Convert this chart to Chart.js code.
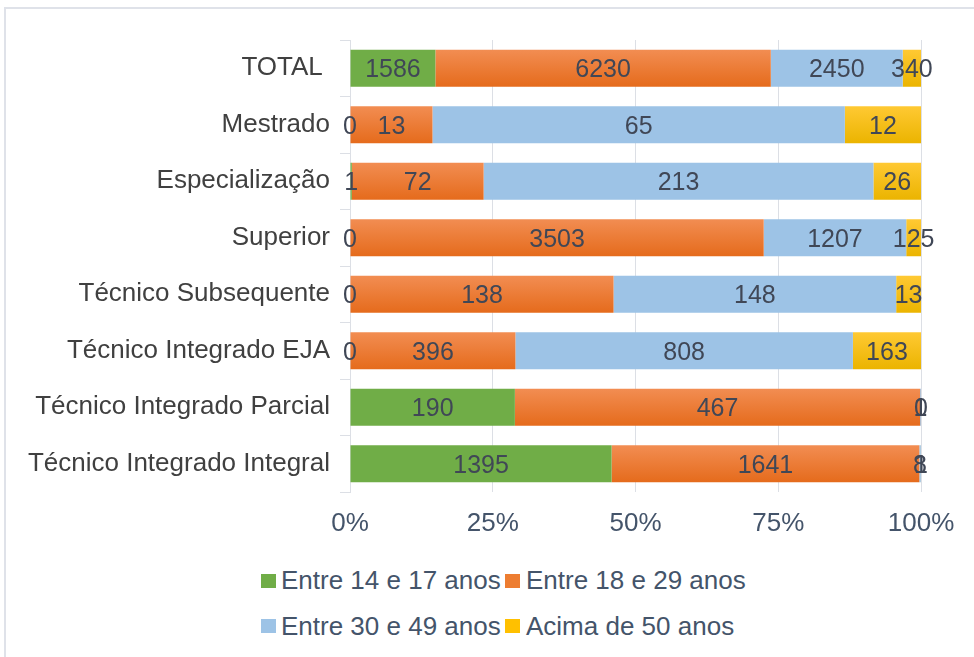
<!DOCTYPE html>
<html>
<head>
<meta charset="utf-8">
<script src="https://cdn.jsdelivr.net/npm/chart.js@4.4.1/dist/chart.umd.min.js"></script>
<style>
    body { margin: 0; background: #fff; overflow: hidden; width: 974px; height: 657px; position: relative; }
    #frame { position: absolute; left: 4px; top: 7px; width: 1000px; height: 700px; border: 2px solid #dfe2e9; box-sizing: border-box; }
    #wrap { position: absolute; left: 0; top: 0; width: 974px; height: 545px; }
    .box { position: absolute; width: 15px; height: 14px; }
    .txt { position: absolute; font-family: 'Liberation Sans', Arial, sans-serif; font-size: 26px; line-height: 30px; color: #44546a; white-space: nowrap; }
</style>
</head>
<body>
<div id="frame"></div>
<div id="wrap"><canvas id="myChart"></canvas></div>
<div id="legend"></div>

<script>
const categories = ['TOTAL ', 'Mestrado', 'Especialização', 'Superior', 'Técnico Subsequente', 'Técnico Integrado EJA', 'Técnico Integrado Parcial', 'Técnico Integrado Integral'];
const seriesNames = ['Entre 14 e 17 anos', 'Entre 18 e 29 anos', 'Entre 30 e 49 anos', 'Acima de 50 anos'];
const age14to17 = [1586, 0, 1, 0, 0, 0, 190, 1395];
const age18to29 = [6230, 13, 72, 3503, 138, 396, 467, 1641];
const age30to49 = [2450, 65, 213, 1207, 148, 808, 1, 8];
const age50plus = [340, 12, 26, 125, 13, 163, 0, 1];
const xTicks = [0, 25, 50, 75, 100];

const allSeries = [age14to17, age18to29, age30to49, age50plus];
const colors = ['#70ad47', '#ed7d31', '#9dc3e6', '#ffc000'];
const barPct = 0.655;

Chart.defaults.font.family = "'Liberation Sans', Arial, sans-serif";

// row totals -> percentages (100% stacked)
let totals = categories.map((c, i) => allSeries.reduce((s, arr) => s + arr[i], 0));

function barFill(top, bottom) {
    return function (context) {
        const chart = context.chart;
        const y = chart.scales.y;
        if (!y || context.type !== 'data') return bottom;
        const yc = y.getPixelForValue(context.dataIndex);
        const half = (y.height / categories.length) * barPct / 2;
        if (!isFinite(yc) || !isFinite(half) || half <= 0) return bottom;
        const g = chart.ctx.createLinearGradient(0, yc - half, 0, yc + half);
        g.addColorStop(0, top);
        g.addColorStop(1, bottom);
        return g;
    };
}

const fills = [
    '#70ad47',
    barFill('#f28d52', '#e56b1c'),
    '#9dc3e6',
    barFill('#ffc933', '#ebb400')
];

// value labels in the middle of each segment
const valueLabels = {
    id: 'valueLabels',
    afterDatasetsDraw(chart) {
        const ctx = chart.ctx;
        ctx.save();
        ctx.font = "25px 'Liberation Sans', Arial, sans-serif";
        ctx.fillStyle = '#404756';
        ctx.textAlign = 'center';
        ctx.textBaseline = 'middle';
        chart.data.datasets.forEach((ds, d) => {
            const meta = chart.getDatasetMeta(d);
            meta.data.forEach((bar, i) => {
                const cx = (bar.x + bar.base) / 2;
                ctx.fillText(String(allSeries[d][i]), cx, bar.y + 2);
            });
        });
        ctx.restore();
    }
};

const ctx = document.getElementById('myChart');

new Chart(ctx, {
    type: 'bar',
    data: {
        labels: categories,
        datasets: seriesNames.map((name, d) => ({
            label: name,
            data: allSeries[d].map((v, i) => v * 100 / totals[i]),
            backgroundColor: fills[d],
            borderWidth: 0,
            barPercentage: barPct,
            categoryPercentage: 1
        }))
    },
    options: {
        indexAxis: 'y',
        responsive: true,
        maintainAspectRatio: false,
        animation: false,
        layout: {
            padding: { top: 40, left: 0, right: 53, bottom: 8 }
        },
        scales: {
            x: {
                stacked: true,
                min: 0,
                max: 100,
                afterBuildTicks: (scale) => { scale.ticks = xTicks.map(v => ({ value: v })); },
                afterFit: (scale) => { scale.height = 45; },
                grid: { color: '#dcdfe5', lineWidth: 1, drawTicks: false },
                border: { display: false },
                ticks: {
                    padding: 16,
                    color: '#44546a',
                    font: { size: 26 },
                    callback: (v) => v + '%'
                }
            },
            y: {
                stacked: true,
                afterFit: (scale) => { scale.width = 350; },
                grid: { drawOnChartArea: false, color: '#dcdfe5', tickLength: 10, offset: true },
                border: { display: true, color: '#dcdfe5' },
                ticks: {
                    padding: 10,
                    color: '#404040',
                    font: { size: 26 }
                }
            }
        },
        plugins: {
            legend: { display: false },
            tooltip: { enabled: false }
        }
    },
    plugins: [valueLabels]
});

// legend in two rows, like the original
const legend = document.getElementById('legend');
seriesNames.forEach((name, d) => {
    const col = d % 2;
    const row = Math.floor(d / 2);
    const boxX = col ? 505 : 261;
    const txtX = col ? 526 : 281;
    const boxY = row ? 619 : 574;
    const txtY = row ? 611 : 565;
    const b = document.createElement('span');
    b.className = 'box';
    b.style.left = boxX + 'px';
    b.style.top = boxY + 'px';
    b.style.background = colors[d];
    const t = document.createElement('span');
    t.className = 'txt';
    t.style.left = txtX + 'px';
    t.style.top = txtY + 'px';
    t.textContent = name;
    legend.appendChild(b);
    legend.appendChild(t);
});
</script>
</body>
</html>
